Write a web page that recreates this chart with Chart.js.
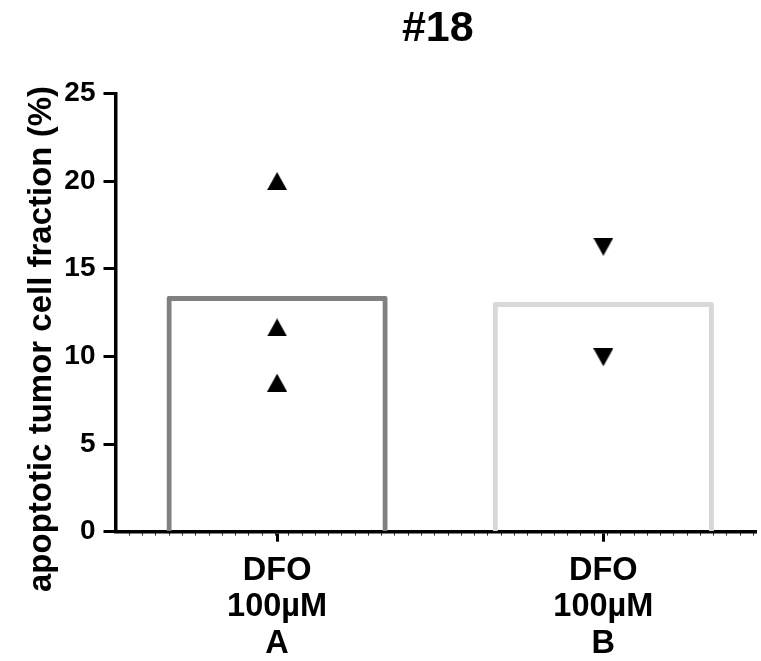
<!DOCTYPE html>
<html>
<head>
<meta charset="utf-8">
<script src="https://cdn.jsdelivr.net/npm/chart.js@4"></script>
<style>
  html, body { margin: 0; padding: 0; background: #fff; overflow: hidden; }
  canvas { display: block; }
</style>
</head>
<body>
<canvas id="c" width="761" height="661"></canvas>
<script>
// ---- data ----
const chartTitle = '#18';
const yAxisTitle = 'apoptotic tumor cell fraction (%)';
const categoryLabels = ['DFO 100µM A', 'DFO 100µM B'];
const barMeans = [13.45, 13.1];
const pointsA = [20.0, 11.65, 8.5];
const pointsB = [16.25, 9.95];
const yTicks = [0, 5, 10, 15, 20, 25];

// ---- styles ----
const FONT = 'Liberation Sans, Arial, Helvetica, sans-serif';
const barColors = ['#808080', '#d8d8d8'];

function triangleCanvas(down) {
  const c = document.createElement('canvas');
  c.width = 20; c.height = 18;
  const g = c.getContext('2d');
  g.fillStyle = '#000';
  g.beginPath();
  if (!down) { g.moveTo(10, 0); g.lineTo(20, 18); g.lineTo(0, 18); }
  else { g.moveTo(0, 0); g.lineTo(20, 0); g.lineTo(10, 18); }
  g.closePath();
  g.fill();
  return c;
}
const upTri = triangleCanvas(false);
const downTri = triangleCanvas(true);

const barData = barMeans.map((v, i) => ({ x: i, y: v }));
const scatterA = pointsA.map(v => ({ x: 0, y: v }));
const scatterB = pointsB.map(v => ({ x: 1, y: v }));

const X_MIN = -0.4954, X_MAX = 1.468;
const MINOR_START = -0.4529, MINOR_STEP = 0.04071;

const textPlugin = {
  id: 'texts',
  afterDraw(chart) {
    const ctx = chart.ctx;
    const ca = chart.chartArea;
    ctx.save();
    ctx.fillStyle = '#000';
    ctx.font = 'bold 43px ' + FONT;
    ctx.textAlign = 'center';
    ctx.textBaseline = 'alphabetic';
    ctx.fillText(chartTitle, (ca.left + ca.right) / 2 + 2, 41);
    ctx.translate(51, 339);
    ctx.rotate(-Math.PI / 2);
    ctx.font = 'bold 33px ' + FONT;
    ctx.fillText(yAxisTitle, 0, 0);
    ctx.restore();
  }
};

new Chart(document.getElementById('c'), {
  type: 'bar',
  data: {
    datasets: [
      {
        type: 'bar',
        data: barData,
        backgroundColor: 'rgba(255,255,255,0)',
        borderColor: barColors,
        borderWidth: 5,
        borderRadius: 2,
        borderSkipped: 'start',
        barPercentage: 0.678,
        categoryPercentage: 1,
        order: 2
      },
      {
        type: 'scatter',
        data: scatterA,
        pointStyle: upTri,
        order: 0
      },
      {
        type: 'scatter',
        data: scatterB,
        pointStyle: downTri,
        order: 0
      }
    ]
  },
  options: {
    responsive: false,
    animation: false,
    devicePixelRatio: 1,
    layout: { padding: { top: 93.4, right: 0, left: 0, bottom: 0 } },
    plugins: { legend: { display: false }, tooltip: { enabled: false }, title: { display: false } },
    scales: {
      x: {
        type: 'linear',
        position: 'bottom',
        offset: false,
        weight: 1,
        min: X_MIN,
        max: X_MAX,
        afterBuildTicks: s => { s.ticks = categoryLabels.map((_, i) => ({ value: i })); },
        afterFit: s => { s.height = 129.3; },
        ticks: {
          callback: v => categoryLabels[v] ? categoryLabels[v].split(' ') : '',
          color: '#000',
          font: { family: FONT, size: 32.5, weight: 'bold', lineHeight: 1.12 },
          padding: 11,
          maxRotation: 0,
          autoSkip: false
        },
        grid: { offset: false, drawOnChartArea: false, drawTicks: true, tickLength: 10, tickWidth: 3, tickColor: '#000' },
        border: { display: true, color: '#000', width: 3.5 }
      },
      xMinor: {
        type: 'linear',
        position: 'bottom',
        offset: false,
        weight: 0,
        min: X_MIN,
        max: X_MAX,
        afterBuildTicks: s => {
          const t = [];
          for (let v = MINOR_START; v <= X_MAX; v += MINOR_STEP) t.push({ value: v });
          s.ticks = t;
        },
        afterFit: s => { s.height = 0; },
        ticks: { display: false },
        grid: { offset: false, drawOnChartArea: false, drawTicks: true, tickLength: 4, tickWidth: 1, tickColor: '#333' },
        border: { display: false }
      },
      y: {
        type: 'linear',
        position: 'left',
        min: yTicks[0],
        max: yTicks[yTicks.length - 1],
        afterBuildTicks: s => { s.ticks = yTicks.map(v => ({ value: v })); },
        afterFit: s => { s.width = 115.5; },
        ticks: {
          color: '#000',
          font: { family: FONT, size: 28, weight: 'bold' },
          padding: 8
        },
        grid: { drawOnChartArea: false, drawTicks: true, tickLength: 12, tickWidth: 3, tickColor: '#000' },
        border: { display: true, color: '#000', width: 3.5 }
      }
    }
  },
  plugins: [textPlugin]
});
</script>
</body>
</html>
